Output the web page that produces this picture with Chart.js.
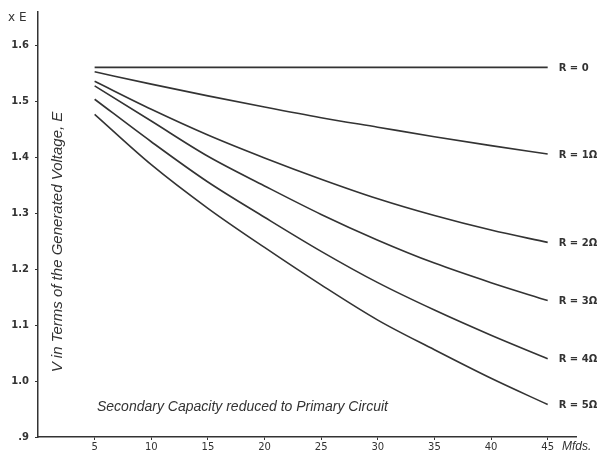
<!DOCTYPE html>
<html>
<head>
<meta charset="utf-8">
<script src="https://cdn.jsdelivr.net/npm/chart.js@4"></script>
<style>
  html, body { margin: 0; padding: 0; background: #fff; }
  #box { width: 600px; height: 454px; }
</style>
</head>
<body>
<div id="box"><canvas id="capChart"></canvas></div>
<script>
'use strict'
{
  const capacity = [5, 10, 15, 20, 25, 30, 35, 40, 45];
  const r0 = [1.561, 1.561, 1.561, 1.561, 1.561, 1.561, 1.561, 1.561, 1.561];
  const r1 = [1.553, 1.531, 1.510, 1.490, 1.471, 1.454, 1.437, 1.421, 1.406];
  const r2 = [1.536, 1.486, 1.440, 1.399, 1.361, 1.326, 1.296, 1.270, 1.248];
  const r3 = [1.528, 1.465, 1.402, 1.349, 1.298, 1.252, 1.211, 1.176, 1.144];
  const r4 = [1.504, 1.428, 1.356, 1.293, 1.232, 1.176, 1.127, 1.082, 1.040];
  const r5 = [1.477, 1.387, 1.309, 1.239, 1.172, 1.109, 1.056, 1.005, 0.958];
  const seriesNames = ['R = 0', 'R = 1Ω', 'R = 2Ω', 'R = 3Ω', 'R = 4Ω', 'R = 5Ω'];
  const xTicks = [5, 10, 15, 20, 25, 30, 35, 40, 45];
  const yTicks = [0.9, 1.0, 1.1, 1.2, 1.3, 1.4, 1.5, 1.6];
  const yTickLabels = ['.9', '1.0', '1.1', '1.2', '1.3', '1.4', '1.5', '1.6'];

  const ink = '#333';
  const ctx = document.getElementById('capChart').getContext('2d');

  const datasets = [r0, r1, r2, r3, r4, r5].map((vals, i) => ({
    label: seriesNames[i],
    data: capacity.map((c, j) => ({x: c, y: vals[j]})),
    borderColor: ink,
    borderWidth: 1.6,
    pointRadius: 0,
    cubicInterpolationMode: 'monotone',
  }));

  // labels at the end of each curve and loose axis texts
  const notes = {
    id: 'notes',
    afterDraw(chart) {
      const c = chart.ctx;
      const xs = chart.scales.x;
      const ys = chart.scales.y;
      c.save();
      c.fillStyle = ink;
      c.font = 'bold 10px "DejaVu Sans"';
      c.textBaseline = 'middle';
      chart.data.datasets.forEach(ds => {
        const last = ds.data[ds.data.length - 1];
        c.fillText(ds.label, xs.getPixelForValue(last.x) + 11, ys.getPixelForValue(last.y) + 1);
      });
      c.font = '12px "DejaVu Sans"';
      c.fillText('x E', 8, 18);
      c.font = 'italic 12px "Liberation Sans"';
      c.fillText('Mfds.', 562, 447);
      c.font = 'italic 14px "Liberation Sans Narrow", "Liberation Sans"';
      c.fillText('Secondary Capacity reduced to Primary Circuit', 97, 407);
      c.translate(58, 242);
      c.rotate(-Math.PI / 2);
      c.textAlign = 'center';
      c.font = 'italic 15px "Liberation Sans Narrow", "Liberation Sans"';
      c.fillText('V in Terms of the Generated Voltage, E', 0, 0);
      c.restore();
    }
  };

  const options = {
    animation: false,
    maintainAspectRatio: false,
    layout: { padding: { top: 8, right: 24, left: 0, bottom: 0 } },
    plugins: {
      legend: { display: false },
      tooltip: { enabled: false },
    },
    scales: {
      x: {
        type: 'linear',
        min: 0,
        max: 47.5,
        afterBuildTicks: axis => { axis.ticks = xTicks.map(v => ({value: v})); },
        afterFit: axis => { axis.height = 17; },
        border: { color: ink, width: 1.5 },
        grid: { drawOnChartArea: false, tickLength: 3, color: ink },
        ticks: { color: ink, padding: 1, font: { size: 10, family: 'DejaVu Sans' } },
      },
      y: {
        min: 0.9,
        max: 1.66,
        afterBuildTicks: axis => { axis.ticks = yTicks.map(v => ({value: v})); },
        afterFit: axis => { axis.width = 38; },
        border: { color: ink, width: 1.5 },
        grid: { drawOnChartArea: false, tickLength: 3, color: ink },
        ticks: {
          color: ink,
          padding: 6,
          font: { size: 10, weight: 'bold', family: 'DejaVu Sans' },
          callback: (v, i) => yTickLabels[i],
        },
      },
    },
  };

  const capChart = new Chart(ctx, {
    type: 'line',
    data: { datasets: datasets },
    options: options,
    plugins: [notes],
  });
}
</script>
</body>
</html>
